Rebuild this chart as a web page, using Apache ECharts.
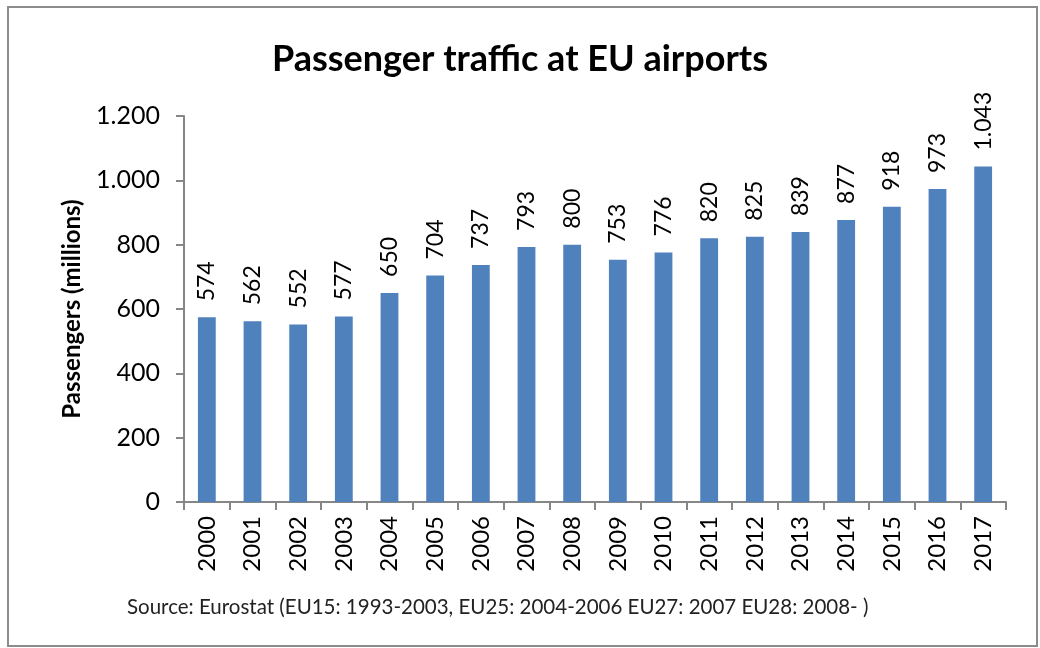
<!DOCTYPE html>
<html>
<head>
<meta charset="utf-8">
<script src="https://cdn.jsdelivr.net/npm/echarts@6/dist/echarts.min.js"></script>
<style>
  html, body { margin: 0; padding: 0; background: #fff; }
  #chart { width: 1040px; height: 648px; }
</style>
</head>
<body>
<div id="chart"></div>
<script>
  var years = ['2000','2001','2002','2003','2004','2005','2006','2007','2008',
               '2009','2010','2011','2012','2013','2014','2015','2016','2017'];
  var passengers = [574, 562, 552, 577, 650, 704, 737, 793, 800,
                    753, 776, 820, 825, 839, 877, 918, 973, 1043];
  var yTicks = [0, 200, 400, 600, 800, 1000, 1200];

  function dotThousands(v) {
    return String(v).replace(/\B(?=(\d{3})+(?!\d))/g, '.');
  }

  var font = 'Lato, "Open Sans", sans-serif';
  var chart = echarts.init(document.getElementById('chart'));
  chart.setOption({
    animation: false,
    backgroundColor: '#fff',
    graphic: [
      {
        type: 'rect',
        shape: { x: 8, y: 7, width: 1029, height: 639 },
        style: { fill: 'none', stroke: '#8c8c8c', lineWidth: 2 }
      },
      {
        type: 'text',
        left: 127, top: 597,
        style: { text: 'Source: Eurostat (EU15: 1993-2003, EU25: 2004-2006 EU27: 2007 EU28: 2008- )',
                 font: '20.5px ' + font, fill: '#222' }
      }
    ],
    title: {
      text: 'Passenger traffic at EU airports',
      left: 'center', top: 36,
      textStyle: { fontFamily: font, fontSize: 36, fontWeight: 'bold', color: '#000' }
    },
    grid: { left: 184, right: 34, top: 116, bottom: 146, containLabel: false },
    xAxis: {
      type: 'category',
      data: years,
      axisLine: { lineStyle: { color: '#868686', width: 2 } },
      axisTick: { show: true, alignWithLabel: false, length: 8, lineStyle: { color: '#868686', width: 2 } },
      axisLabel: { rotate: 90, fontFamily: font, fontSize: 24, color: '#000', margin: 14 }
    },
    yAxis: {
      type: 'value',
      min: yTicks[0], max: yTicks[yTicks.length - 1], interval: 200,
      name: 'Passengers (millions)',
      nameLocation: 'middle',
      nameGap: 100,
      nameTextStyle: { fontFamily: font, fontSize: 24, fontWeight: 'bold', color: '#000' },
      axisLine: { show: true, lineStyle: { color: '#868686', width: 2 } },
      axisTick: { show: true, length: 8, lineStyle: { color: '#868686', width: 2 } },
      splitLine: { show: false },
      axisLabel: { fontFamily: font, fontSize: 25, color: '#000', margin: 24,
                   formatter: dotThousands }
    },
    series: [{
      type: 'bar',
      data: passengers,
      barWidth: '39%',
      itemStyle: { color: '#4f81bd' },
      label: {
        show: true,
        position: 'top',
        rotate: 90,
        align: 'left',
        verticalAlign: 'middle',
        distance: 16,
        fontFamily: font, fontSize: 23, color: '#000',
        formatter: function (p) { return dotThousands(p.value); }
      }
    }]
  });
</script>
</body>
</html>
